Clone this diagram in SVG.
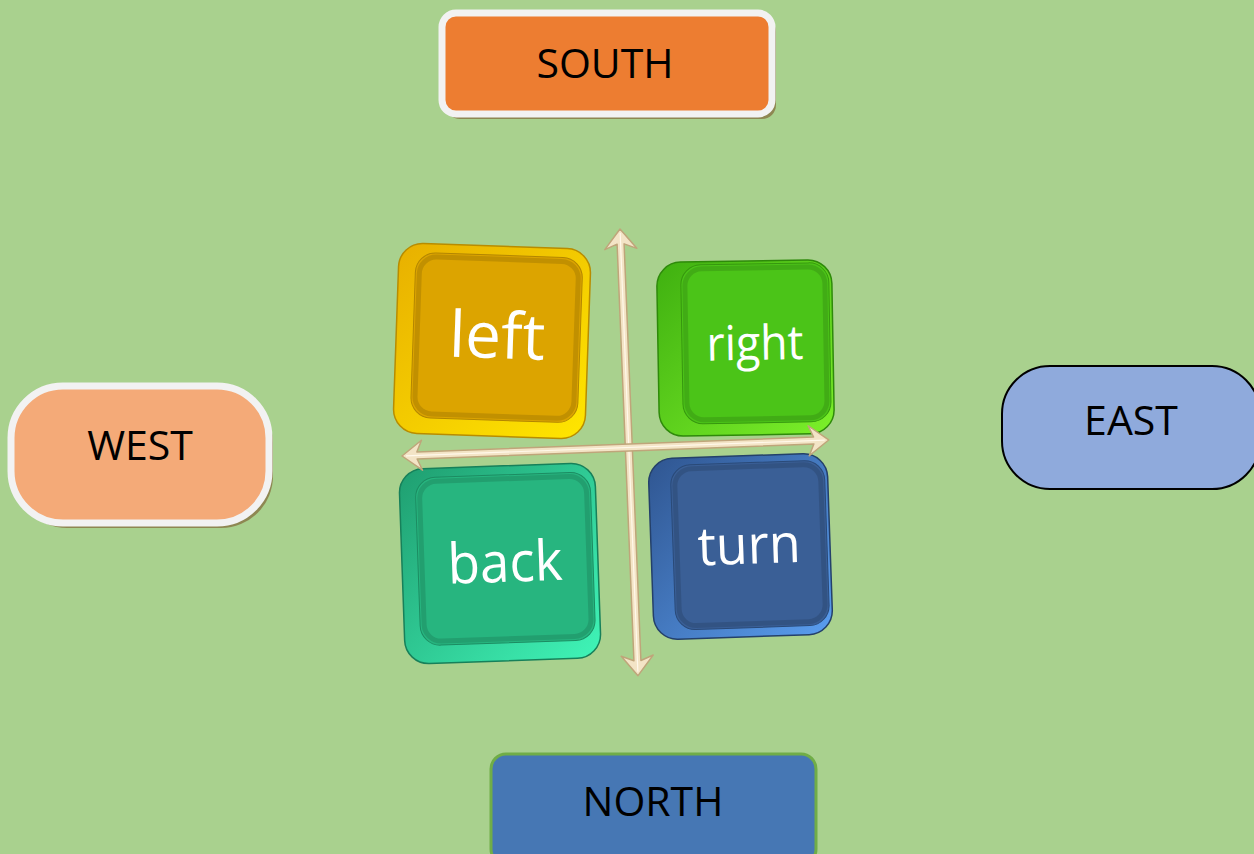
<svg xmlns="http://www.w3.org/2000/svg" width="1254" height="854" viewBox="0 0 1254 854">
<style>
.lbl{font-family:"Open Sans","Liberation Sans",sans-serif;font-size:41px;fill:#000;text-anchor:middle}
.key{font-family:"Open Sans","Liberation Sans",sans-serif;fill:#fff;text-anchor:middle}
.shadow{fill:#8E8752}
.bevel{fill:none;stroke:#000;stroke-opacity:0.12;stroke-width:5}
.arrow{fill:#F3E4C6;stroke:#BFA57A;stroke-width:1.5;stroke-linejoin:round}
.arrowc{stroke:#FFF8EA;stroke-width:1.2;fill:none}
</style>
<defs>
<linearGradient id="gY" x1="0" y1="0" x2="1" y2="1"><stop offset="0" stop-color="#E8B000"/><stop offset="1" stop-color="#FFE600"/></linearGradient>
<linearGradient id="gG" x1="0" y1="0" x2="1" y2="1"><stop offset="0" stop-color="#3FB010"/><stop offset="1" stop-color="#7CF02A"/></linearGradient>
<linearGradient id="gT" x1="0" y1="0" x2="1" y2="1"><stop offset="0" stop-color="#1F9E70"/><stop offset="1" stop-color="#40F5B8"/></linearGradient>
<linearGradient id="gB" x1="0" y1="0" x2="1" y2="1"><stop offset="0" stop-color="#2F5590"/><stop offset="1" stop-color="#5A9EF0"/></linearGradient>
</defs>
<rect width="1254" height="854" fill="#A9D18E"/>

<g id="south">
<rect class="shadow" x="446" y="18" width="330" height="101" rx="14"/>
<rect x="442" y="13" width="330" height="101" rx="14" fill="#ED7D31" stroke="#F2F2F2" stroke-width="7"/>
<text class="lbl" x="605" y="78">SOUTH</text>
</g>

<g id="west">
<rect class="shadow" x="15" y="391" width="258" height="137" rx="52"/>
<rect x="11" y="386" width="258" height="137" rx="52" fill="#F4AA78" stroke="#F2F2F2" stroke-width="7"/>
<text class="lbl" x="140" y="460">WEST</text>
</g>

<g id="east">
<rect x="1002" y="366" width="258" height="123" rx="48" fill="#8FAADC" stroke="#000" stroke-width="2"/>
<text class="lbl" x="1131" y="435">EAST</text>
</g>

<g id="north">
<rect x="491" y="754" width="325" height="110" rx="15" fill="#4677B4" stroke="#70AD47" stroke-width="3"/>
<text class="lbl" x="653" y="816">NORTH</text>
</g>

<g id="left" transform="rotate(2 491 341)">
<rect x="396" y="246" width="192" height="190" rx="24" fill="url(#gY)" stroke="#B88C00" stroke-width="1.5"/>
<rect x="413" y="255" width="167" height="165" rx="20" fill="#DCA400" stroke="#B38600" stroke-width="1"/>
<rect class="bevel" x="417" y="259" width="159" height="157" rx="17"/>
<text class="key" x="497" y="358" font-size="64" textLength="96" lengthAdjust="spacingAndGlyphs">left</text>
</g>

<g id="right" transform="rotate(-1 745 348)">
<rect x="658" y="261" width="175" height="174" rx="24" fill="url(#gG)" stroke="#2E8A0A" stroke-width="1.5"/>
<rect x="682" y="264" width="148" height="159" rx="20" fill="#4BC418" stroke="#36970F" stroke-width="1"/>
<rect class="bevel" x="686" y="268" width="140" height="151" rx="17"/>
<text class="key" x="755" y="360" font-size="48" textLength="97" lengthAdjust="spacingAndGlyphs">right</text>
</g>

<g id="back" transform="rotate(-2 500 563)">
<rect x="402" y="466" width="196" height="195" rx="24" fill="url(#gT)" stroke="#17805A" stroke-width="1.5"/>
<rect x="418" y="475" width="175" height="168" rx="20" fill="#27B57F" stroke="#1C8C62" stroke-width="1"/>
<rect class="bevel" x="422" y="479" width="167" height="160" rx="17"/>
<text class="key" x="505" y="582" font-size="56" textLength="115" lengthAdjust="spacingAndGlyphs">back</text>
</g>

<g id="turn" transform="rotate(-2 740 546)">
<rect x="651" y="456" width="179" height="181" rx="24" fill="url(#gB)" stroke="#24406A" stroke-width="1.5"/>
<rect x="673" y="463" width="154" height="165" rx="20" fill="#3A5F96" stroke="#2A4A78" stroke-width="1"/>
<rect class="bevel" x="677" y="467" width="146" height="157" rx="17"/>
<text class="key" x="749" y="564" font-size="54" textLength="103" lengthAdjust="spacingAndGlyphs">turn</text>
</g>

<g id="connectors">
<g transform="translate(620 229) rotate(87.69)">
<polygon class="arrow" points="0,0 20,-16 15,-3.5 432,-3.5 427,-16 447,0 427,16 432,3.5 15,3.5 20,16"/>
<line class="arrowc" x1="4" y1="0" x2="443" y2="0"/>
</g>
<g transform="translate(402 456) rotate(-2.15)">
<polygon class="arrow" points="0,0 20,-15 15,-3.5 412,-3.5 407,-15 427,0 407,15 412,3.5 15,3.5 20,15"/>
<line class="arrowc" x1="4" y1="0" x2="423" y2="0"/>
</g>
</g>
</svg>
